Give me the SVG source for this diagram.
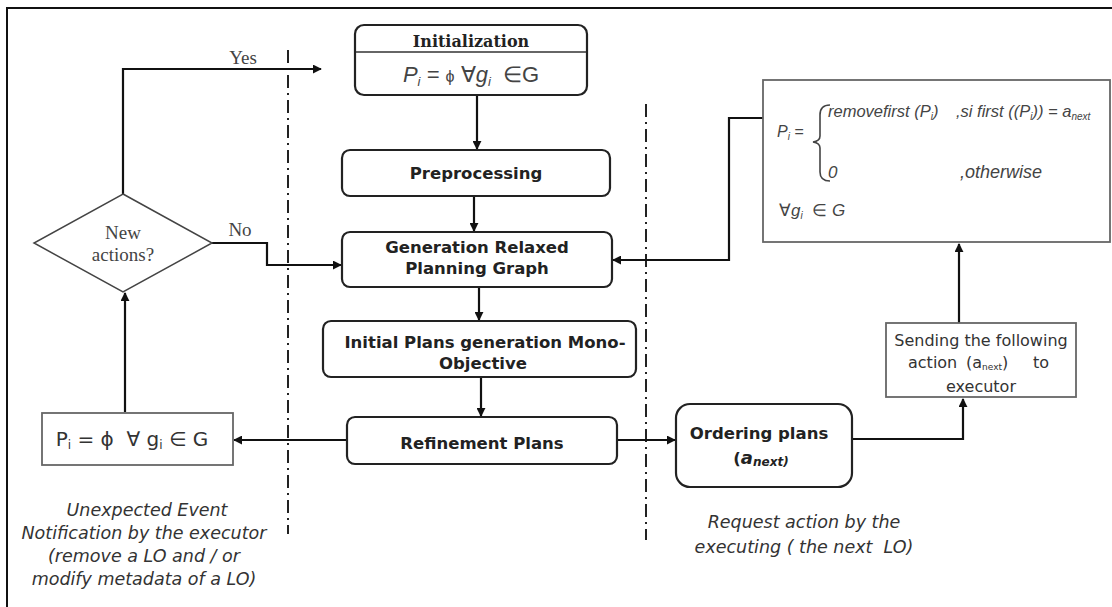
<svg xmlns="http://www.w3.org/2000/svg" width="1112" height="607" viewBox="0 0 1112 607">
  <defs>
    <marker id="arrow" viewBox="0 0 10 10" refX="9" refY="5" markerWidth="9" markerHeight="9" markerUnits="userSpaceOnUse" orient="auto">
      <path d="M0,0 L10,5 L0,10 z" fill="#111"/>
    </marker>
    <style>
      .frame { fill: none; stroke: #111; stroke-width: 2; }
      .step { fill: #fff; stroke: #222; stroke-width: 2.2; }
      .plain { fill: #fff; stroke: #666; stroke-width: 1.8; }
      .wire { fill: none; stroke: #111; stroke-width: 2.2; }
      .lane { fill: none; stroke: #222; stroke-width: 2; stroke-dasharray: 13 5 2 5; }
      .bold { font-family: "DejaVu Sans", Verdana, sans-serif; font-weight: bold; font-size: 16.5px; fill: #222; text-anchor: middle; }
      .serif { font-family: "Liberation Serif", "Times New Roman", serif; font-size: 19px; fill: #444; text-anchor: middle; }
      .math { font-family: "Liberation Sans", Arial, sans-serif; font-style: italic; fill: #444; white-space: pre; }
      .note { font-family: "DejaVu Sans", Verdana, sans-serif; font-style: italic; font-size: 17.5px; fill: #333; text-anchor: middle; white-space: pre; }
      .body { font-family: "DejaVu Sans", Verdana, sans-serif; font-size: 16px; fill: #333; text-anchor: middle; white-space: pre; }
      .body.left { text-anchor: start; }
    </style>
  </defs>

  <rect width="1112" height="607" fill="#fff"/>
  <!-- outer frame (top and left edges) -->
  <path class="frame" d="M7,607 L7,8 L1112,8"/>

  <!-- swimlane separators -->
  <line class="lane" x1="288" y1="50" x2="288" y2="534"/>
  <line class="lane" x1="646" y1="104" x2="646" y2="540"/>

  <!-- connectors -->
  <g id="connectors">
    <line class="wire" x1="477" y1="95" x2="477" y2="149" marker-end="url(#arrow)"/>
    <line class="wire" x1="474" y1="196" x2="474" y2="231" marker-end="url(#arrow)"/>
    <line class="wire" x1="479" y1="287" x2="479" y2="320" marker-end="url(#arrow)"/>
    <line class="wire" x1="481" y1="377" x2="481" y2="416" marker-end="url(#arrow)"/>
    <!-- Refinement -> reset -->
    <line class="wire" x1="347" y1="440" x2="234" y2="440" marker-end="url(#arrow)"/>
    <!-- Refinement -> Ordering -->
    <line class="wire" x1="617" y1="440" x2="675" y2="440" marker-end="url(#arrow)"/>
    <!-- Ordering -> Sending -->
    <path class="wire" d="M852,439 L963,439 L963,399" marker-end="url(#arrow)"/>
    <!-- Sending -> update box -->
    <line class="wire" x1="959" y1="323" x2="959" y2="244" marker-end="url(#arrow)"/>
    <!-- update box -> GRPG -->
    <path class="wire" d="M763,118 L729,118 L729,260 L613,260" marker-end="url(#arrow)"/>
    <!-- reset -> decision -->
    <line class="wire" x1="125" y1="412" x2="125" y2="293" marker-end="url(#arrow)"/>
    <!-- decision Yes -->
    <path class="wire" d="M123,194 L123,69 L321,69" marker-end="url(#arrow)"/>
    <!-- decision No -->
    <path class="wire" d="M212,243 L267,243 L267,265 L341,265" marker-end="url(#arrow)"/>
    <text class="serif" x="243" y="64">Yes</text>
    <text class="serif" x="240" y="236">No</text>
  </g>

  <g id="init">
    <rect class="step" x="355" y="25" width="232" height="70" rx="9"/>
    <line x1="356" y1="52" x2="586" y2="52" stroke="#333" stroke-width="1.5"/>
    <text x="471" y="47" text-anchor="middle" font-family="'DejaVu Serif', serif" font-weight="bold" font-size="16" fill="#222">Initialization</text>
    <text class="math" x="471" y="82" text-anchor="middle" font-size="22">P<tspan font-size="13" dy="4">i</tspan><tspan dy="-4"> = </tspan><tspan font-style="normal" font-size="16">ϕ</tspan><tspan font-style="normal"> ∀</tspan>g<tspan font-size="13" dy="4">i</tspan><tspan dy="-4" font-style="normal">  ∈</tspan><tspan font-style="normal">G</tspan></text>
  </g>

  <g id="preprocessing">
    <rect class="step" x="342" y="150" width="268" height="46" rx="8"/>
    <text class="bold" x="476" y="179">Preprocessing</text>
  </g>

  <g id="grpg">
    <rect class="step" x="342" y="232" width="270" height="55" rx="8"/>
    <text class="bold" x="477" y="253">Generation Relaxed</text>
    <text class="bold" x="477" y="274">Planning Graph</text>
  </g>

  <g id="initial-plans">
    <rect class="step" x="323" y="321" width="313" height="56" rx="8"/>
    <text class="bold" x="485" y="348">Initial Plans generation Mono-</text>
    <text class="bold" x="483" y="369">Objective</text>
  </g>

  <g id="refinement">
    <rect class="step" x="347" y="417" width="270" height="47" rx="8"/>
    <text class="bold" x="482" y="449">Refinement Plans</text>
  </g>

  <g id="ordering">
    <rect class="step" x="676" y="404" width="176" height="83" rx="14"/>
    <text class="bold" x="759" y="439">Ordering plans</text>
    <text class="bold" x="761" y="464">(<tspan font-style="italic" font-size="18">a</tspan><tspan font-style="italic" font-size="12" dy="2">next)</tspan></text>
  </g>

  <g id="sending">
    <rect class="plain" x="886" y="323" width="190" height="74"/>
    <text class="body" x="981" y="346">Sending the following</text>
    <text class="body left" y="368"><tspan x="908">action</tspan><tspan x="966">(a</tspan><tspan font-size="9" dy="2">next</tspan><tspan dy="-2">)</tspan><tspan x="1033">to</tspan></text>
    <text class="body" x="981" y="392">executor</text>
  </g>

  <g id="update-rule">
    <rect class="plain" x="763" y="80" width="347" height="162"/>
    <text class="math" x="777" y="137" font-size="16">P<tspan font-size="10" dy="3">i</tspan><tspan dy="-3"> =</tspan></text>
    <path d="M830,105 Q820,105 820,115 L820,136 Q820,141 813,142 Q820,143 820,148 L820,172 Q820,181 830,181" fill="none" stroke="#444" stroke-width="1.6"/>
    <text class="math" x="828" y="117" font-size="16.5">removefirst (P<tspan font-size="10" dy="3">i</tspan><tspan dy="-3">)</tspan></text>
    <text class="math" x="956" y="117" font-size="16.5">,si first ((P<tspan font-size="10" dy="3">i</tspan><tspan dy="-3">)) = a</tspan><tspan font-size="10" dy="3">next</tspan></text>
    <text class="math" x="828" y="178" font-size="17">0</text>
    <text class="math" x="960" y="178" font-size="18">,otherwise</text>
    <text class="math" x="779" y="216" font-size="17"><tspan font-style="normal">∀</tspan>g<tspan font-size="10" dy="3">i</tspan><tspan dy="-3" font-style="normal">  ∈ </tspan>G</text>
  </g>

  <g id="decision">
    <polygon points="123,194 212,243 123,292 34,243" fill="#fff" stroke="#444" stroke-width="1.5"/>
    <text class="serif" x="123" y="239" font-size="18">New</text>
    <text class="serif" x="123" y="261" font-size="18">actions?</text>
  </g>

  <g id="reset">
    <rect class="plain" x="42" y="413" width="191" height="52"/>
    <text x="132" y="446" text-anchor="middle" font-family="'DejaVu Sans', Verdana, sans-serif" font-size="20" fill="#333" style="white-space: pre">P<tspan font-size="12" dy="3">i</tspan><tspan dy="-3"> = ϕ  ∀ g</tspan><tspan font-size="12" dy="3">i</tspan><tspan dy="-3"> ∈ G</tspan></text>
  </g>

  <g id="notes">
    <text class="note" x="147" y="516">Unexpected Event</text>
    <text class="note" x="144" y="539">Notification by the executor</text>
    <text class="note" x="144" y="562">(remove a LO and / or</text>
    <text class="note" x="144" y="585">modify metadata of a LO)</text>
    <text class="note" x="804" y="528">Request action by the</text>
    <text class="note" x="804" y="553">executing ( the next  LO)</text>
  </g>
</svg>
